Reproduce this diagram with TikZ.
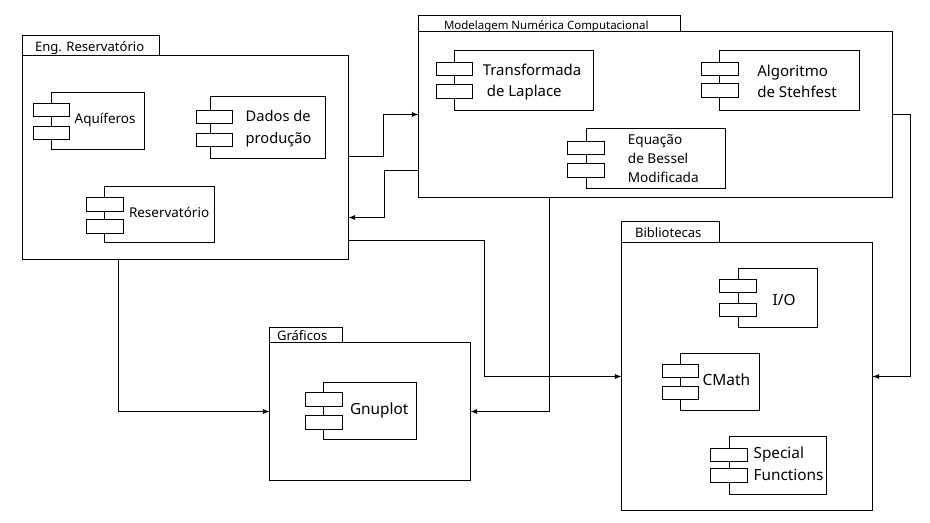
\documentclass[tikz,border=0pt]{standalone}
\usepackage{fontspec}
\setmainfont{Noto Sans}
\usetikzlibrary{arrows,positioning,calc}

\tikzset{
  pkgbox/.style={draw, line width=0.75pt, fill=white, inner sep=0pt, outer sep=0pt},
  compbody/.style={draw, line width=0.75pt, fill=white, inner sep=0pt, outer sep=0pt},
  complug/.style={draw, line width=0.75pt, fill=white, inner sep=0pt, outer sep=0pt},
  boxlabel/.style={anchor=mid west, inner sep=0pt, outer sep=0pt, yshift=-1.1pt},
  conn/.style={draw, line width=0.75pt, ->, >=latex}
}
\newcommand{\pxu}{0.75pt}

\begin{document}
\begin{tikzpicture}[x=0.75pt, y=-0.75pt]
 \useasboundingbox (0,0) rectangle (930,522);

 % packages: tab first, then the box
 \foreach \id/\xa/\xb/\ytab/\ya/\yb/\xtab in {
    eng/22.5/348.5/35.5/55.5/259.5/159.5,
    model/418.5/892.5/15.5/31.5/197.5/680.5,
    biblio/621.5/872.5/221.5/242.5/510.5/719.5,
    graf/269.5/470.5/327.5/342.5/480.5/342.5}{
   \node[pkgbox, minimum width={(\xtab-\xa)*\pxu}, minimum height={(\ya-\ytab)*\pxu}] (\id tab) at ({(\xa+\xtab)/2}, {(\ytab+\ya)/2}) {};
   \node[pkgbox, minimum width={(\xb-\xa)*\pxu}, minimum height={(\yb-\ya)*\pxu}] (\id) at ({(\xa+\xb)/2}, {(\ya+\yb)/2}) {};
 }

 % components: body and its two lugs
 \foreach \id/\xa/\xb/\ya/\yb/\la/\lb/\pa/\pb/\qa/\qb in {
    aquif/51.5/144.5/92.5/149.5/33.5/69.5/103.5/116.5/126.5/139.5,
    dados/210.5/325.5/96.5/158.5/196.5/232.5/110.5/123.5/133.5/146.5,
    reserv/104.5/214.5/186.5/242.5/86.5/123.5/197.5/211.5/219.5/233.5,
    transf/454.5/593.5/50.5/110.5/436.5/472.5/62.5/75.5/84.5/98.5,
    stehf/719.5/859.5/50.5/110.5/701.5/738.5/62.5/75.5/83.5/97.5,
    bessel/586.5/725.5/128.5/188.5/567.5/604.5/141.5/154.5/163.5/177.5,
    io/738.5/817.5/268.5/327.5/719.5/756.5/279.5/292.5/303.5/316.5,
    cmath/680.5/759.5/353.5/410.5/662.5/698.5/364.5/377.5/386.5/399.5,
    special/729.5/826.5/436.5/494.5/710.5/747.5/448.5/461.5/468.5/482.5,
    gnuplot/323.5/416.5/382.5/439.5/305.5/342.5/392.5/406.5/415.5/429.5}{
   \node[compbody, minimum width={(\xb-\xa)*\pxu}, minimum height={(\yb-\ya)*\pxu}] (\id) at ({(\xa+\xb)/2}, {(\ya+\yb)/2}) {};
   \node[complug, minimum width={(\lb-\la)*\pxu}, minimum height={(\pb-\pa)*\pxu}] (\id a) at ({(\la+\lb)/2}, {(\pa+\pb)/2}) {};
   \node[complug, minimum width={(\lb-\la)*\pxu}, minimum height={(\qb-\qa)*\pxu}] (\id b) at ({(\la+\lb)/2}, {(\qa+\qb)/2}) {};
 }

 % labels, one node per printed line
 \foreach \id/\x/\y/\fs/\name in {
    lEng/35/46.7/9.8/{Eng. Reservatório},
    lModel/444/24/8.6/{Modelagem Numérica Computacional},
    lBiblio/635/232.3/9.8/{Bibliotecas},
    lGraf/277/335.3/9.8/{Gráficos},
    lAquif/74.7/118/10.1/{Aquíferos},
    lDadosA/245.7/116.7/11/{Dados de},
    lDadosB/245.7/138/11/{produção},
    lReserv/129/212/10.1/{Reservatório},
    lTransfA/482.8/70.7/11.2/{Transformada},
    lTransfB/486.9/91.7/11.2/{de Laplace},
    lStehfA/757.3/71.7/11.3/{Algoritmo},
    lStehfB/757.3/92.7/11.3/{de Stehfest},
    lBesselA/627.9/139.3/10.2/{Equação},
    lBesselB/627.9/158.3/10.2/{de Bessel},
    lBesselC/627.9/177.3/10.2/{Modificada},
    lIo/772.6/300/11.5/{I/O},
    lCmath/702.6/380.7/11.6/{CMath},
    lSpecialA/753.6/453.7/11.5/{Special},
    lSpecialB/753.6/475/11.5/{Functions},
    lGnuplot/350/409/11.5/{Gnuplot}}{
   \node[boxlabel, font=\fontsize{\fs}{\fs}\selectfont] (\id) at (\x,\y) {\name};
 }

 % connectors
 \coordinate (engOut) at (383.5,156.5);
 \coordinate (modelIn) at (383.5,114.5);
 \coordinate (modelOut) at (384.5,170.5);
 \coordinate (engIn) at (384.5,217.5);
 \coordinate (engLow) at (484.5,240.5);
 \coordinate (biblioIn) at (484.5,376.5);
 \coordinate (grafIn) at (118.5,411.5);
 \coordinate (grafOut) at (549.5,411.5);
 \coordinate (modelRight) at (910.5,114.5);
 \coordinate (biblioRight) at (910.5,376.5);

 \draw[conn] (eng.east |- engOut) -- (engOut) -- (modelIn) -- (model.west |- modelIn);
 \draw[conn] (model.west |- modelOut) -- (modelOut) -- (engIn) -- (eng.east |- engIn);
 \draw[conn] (eng.east |- engLow) -- (engLow) -- (biblioIn) -- (biblio.west |- biblioIn);
 \draw[conn] (eng.south -| grafIn) -- (grafIn) -- (graf.west |- grafIn);
 \draw[conn] (model.south -| grafOut) -- (grafOut) -- (graf.east |- grafOut);
 \draw[conn] (model.east |- modelRight) -- (modelRight) -- (biblioRight) -- (biblio.east |- biblioRight);

\end{tikzpicture}
\end{document}
